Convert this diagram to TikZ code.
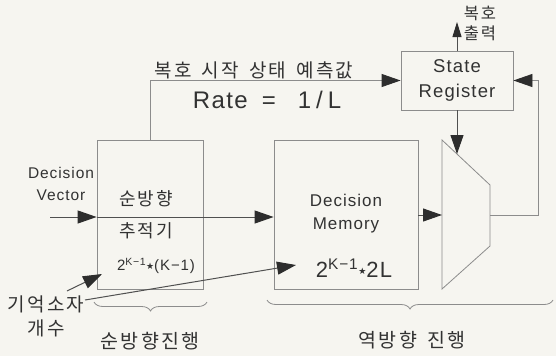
\documentclass[tikz,border=0pt]{standalone}
\usepackage{fontspec}
\setmainfont{Liberation Sans}[LetterSpace=6]
\newfontfamily\kr{Noto Sans CJK KR}[LetterSpace=12]
\newfontfamily\dvs{DejaVu Sans}
\usetikzlibrary{arrows.meta,decorations.pathreplacing,calc}
\definecolor{bg}{RGB}{246,245,240}
\definecolor{ink}{RGB}{50,50,50}
\definecolor{boxc}{RGB}{140,140,140}
\definecolor{linec}{RGB}{80,80,80}
\definecolor{headc}{RGB}{45,45,45}
\newcommand{\strsym}{\raisebox{0.1em}{\dvs\fontsize{9}{9}\selectfont ★}}
\newcommand{\ksp}{\hspace{10pt}}
\tikzset{
  boxst/.style={draw=boxc, line width=0.8pt, inner sep=0pt},
  tip/.style={-{Triangle[length=19pt,width=13pt,fill=headc,color=headc]}},
  tipsm/.style={-{Triangle[length=15pt,width=9pt,fill=headc,color=headc]}},
  arrd/.style={draw=linec, line width=1pt, tip},
  arrl/.style={draw=boxc, line width=0.8pt, tip},
  txt/.style={text=ink, inner sep=0pt, align=center},
  brc/.style={draw=boxc, line width=0.8pt, decorate, decoration={brace, mirror, amplitude=9pt}}
}
\begin{document}
\begin{tikzpicture}[x=1pt,y=-1pt]
\fill[bg] (0,0) rectangle (556,356);
\useasboundingbox (0,0) rectangle (556,356);

% boxes
\node[boxst, minimum width=106pt, minimum height=149pt] (fwd) at (150,214.5) {};
\node[boxst, minimum width=144pt, minimum height=149pt] (mem) at (346,214.5) {};
\node[boxst, minimum width=112pt, minimum height=59pt] (sr) at (457,80.5) {};
\draw[boxst] (442,140) coordinate (mtl) -- (490,185) coordinate (mtr)
  -- (490,246) coordinate (mbr) -- (442,289) coordinate (mbl) -- cycle;

% texts in boxes
\node[txt, font=\kr\fontsize{18}{18}\selectfont] (f1) at (146,199) {순방향};
\node[txt, font=\kr\fontsize{18}{18}\selectfont] (f2) at (146,231) {추적기};
\node[txt, font=\fontsize{15}{15}\selectfont] (f3) at (156,266) {2\textsuperscript{K−1}\strsym(K−1)};
\node[txt, font=\fontsize{17}{23}\selectfont] (m1) at (346,214) {Decision\\Memory};
\node[txt, font=\fontsize{22}{22}\selectfont] (m3) at (354,268) {2\textsuperscript{K−1}\strsym2L};
\node[txt, font=\fontsize{18.5}{25}\selectfont] (s1) at (457,80) {State\\Register};

% labels
\node[txt, font=\kr\fontsize{19}{19}\selectfont] (lb1) at (254,70) {복호\ksp 시작\ksp 상태\ksp 예측값};
\node[txt, font=\fontsize{24}{24}\selectfont] (rate) at (267,100) {Rate\hspace{14pt}=\hspace{22pt}1\hspace{5pt}/\hspace{5pt}L};
\node[txt, font=\kr\fontsize{16.5}{20}\selectfont] (outl) at (480,23) {복호\\출력};
\node[txt, font=\fontsize{15.5}{22}\selectfont] (dvl) at (61,184) {Decision\\Vector};
\node[txt, font=\kr\fontsize{19}{24}\selectfont] (meml) at (46,316) {기억소자\\개수};
\node[txt, font=\kr\fontsize{19.5}{19.5}\selectfont] (fwdl) at (150,341) {순방향진행};
\node[txt, font=\kr\fontsize{19.5}{19.5}\selectfont] (bwdl) at (412,340) {역방향\ksp 진행};

% coordinates
\coordinate (dv) at (50,217);
\coordinate (out) at (457,22);
\coordinate (min) at (457,154);
\coordinate (mout) at (490,215);
\coordinate (fb) at (538,215);
\coordinate (c1s) at (67,291);
\coordinate (c1e) at (102,274);
\coordinate (c2s) at (85,300);
\coordinate (c2e) at (296,265);

% connectors
\draw[arrl] (fwd.north) |- (sr.west);
\draw[draw=linec, line width=1pt, tipsm] (sr.north) -- (out);
\draw[arrd] (sr.south) -- (min);
\draw[arrd] (mem.east |- mout) -- (mtl |- mout);
\draw[arrl] (mout) -- (fb) |- (sr.east);
\draw[arrd] (dv) -- (dv -| fwd.west);
\draw[arrd] (dv -| fwd.west) -- (dv -| mem.west);
\draw[arrd] (c1s) -- (c1e);
\draw[arrd] (c2s) -- (c2e);

% braces
\draw[brc] (94,302) -- (207,302);
\draw[brc] (267,300) -- (553,300);
\end{tikzpicture}
\end{document}
